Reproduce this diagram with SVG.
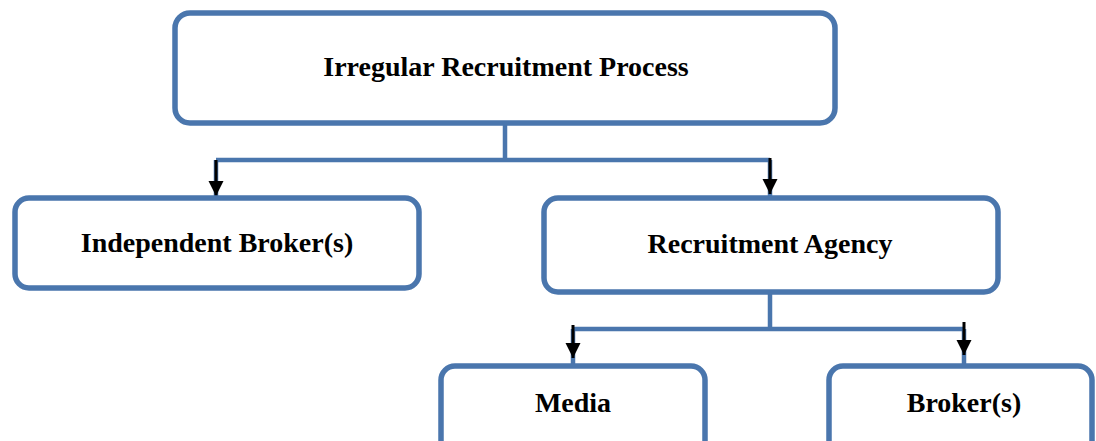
<svg xmlns="http://www.w3.org/2000/svg" width="1096" height="441" viewBox="0 0 1096 441">
<style>
.box{fill:#fff;stroke:#4a76ad;stroke-width:5.5}
.conn{fill:none;stroke:#4a76ad;stroke-width:4.5}
.arr{fill:none;stroke:#000;stroke-width:3}
.lbl{font-family:"Liberation Serif","Times New Roman",serif;font-weight:bold;font-size:28px;fill:#000;text-anchor:middle}
</style>
<defs>
<marker id="tip" markerUnits="userSpaceOnUse" markerWidth="16" markerHeight="16" refX="15" refY="8" orient="auto" viewBox="0 0 16 16">
<path d="M0,0.5 L15,8 L0,15.5 Z" fill="#000"/>
</marker>
</defs>
<rect width="1096" height="441" fill="#fff"/>
<g id="connectors">
<path class="conn" d="M505,123 V160 M216,160 H770 M216,160 V198 M770,160 V198"/>
<path class="conn" d="M770,292 V329 M573,329 H965 M573,329 V366 M964,329 V366"/>
<path class="arr" d="M216,160 V196" marker-end="url(#tip)"/>
<path class="arr" d="M770,158 V194" marker-end="url(#tip)"/>
<path class="arr" d="M573,325 V358" marker-end="url(#tip)"/>
<path class="arr" d="M964,322 V355" marker-end="url(#tip)"/>
</g>
<g id="n-process">
<rect class="box" x="175" y="13" width="660" height="110" rx="15"/>
<text class="lbl" x="506" y="76">Irregular Recruitment Process</text>
</g>
<g id="n-independent">
<rect class="box" x="15" y="198" width="404" height="90" rx="14"/>
<text class="lbl" x="217" y="252">Independent Broker(s)</text>
</g>
<g id="n-agency">
<rect class="box" x="544" y="198" width="454" height="94" rx="14"/>
<text class="lbl" x="770" y="253">Recruitment Agency</text>
</g>
<g id="n-media">
<rect class="box" x="441" y="366" width="264" height="100" rx="14"/>
<text class="lbl" x="573" y="412">Media</text>
</g>
<g id="n-broker">
<rect class="box" x="829" y="366" width="263" height="100" rx="14"/>
<text class="lbl" x="964" y="412">Broker(s)</text>
</g>
</svg>
